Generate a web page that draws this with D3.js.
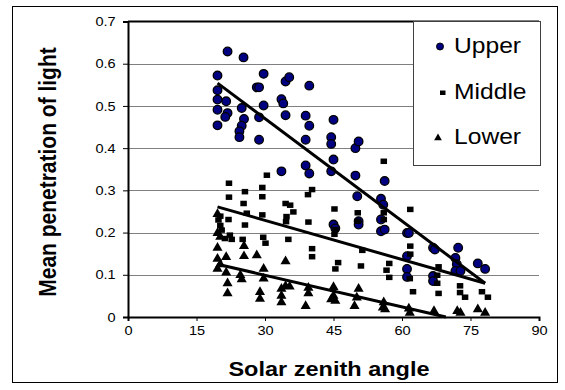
<!DOCTYPE html>
<html>
<head>
<meta charset="utf-8">
<script src="https://cdn.jsdelivr.net/npm/d3@7/dist/d3.min.js"></script>
<style>
  body { margin: 0; background: #fff; }
  svg { display: block; }
  text { font-family: "Liberation Sans", Arial, sans-serif; fill: #000; }
</style>
</head>
<body>
<svg id="chart"></svg>
<script>
// values
var xTicks = [0, 15, 30, 45, 60, 75, 90];
var yTicks = [0, 0.1, 0.2, 0.3, 0.4, 0.5, 0.6, 0.7];
var seriesNames = ["Upper", "Middle", "Lower"];

var upperX = [19.6, 21.8, 25.3, 19.6, 19.6, 19.6, 19.6, 21.5, 21.8, 21.3, 24.9, 25.4, 24.9, 24.4, 24.4,
  28.2, 28.7, 29.7, 29.7, 28.7, 28.7, 33.6, 34.0, 34.5, 34.5, 35.3, 39.7, 38.9, 39.7, 38.9, 38.9, 39.7,
  33.6, 45.0, 44.5, 44.5, 45.0, 44.5, 49.8, 50.5, 49.8, 50.2, 50.5, 50.5, 45.0, 45.4, 56.2, 55.4, 55.9,
  55.4, 55.4, 56.2, 61.1, 61.5, 61.1, 61.1, 61.1, 66.8, 67.2, 66.8, 66.8, 72.3, 71.7, 72.0, 71.7, 72.8,
  76.6, 78.2];
var upperY = [0.572, 0.629, 0.615, 0.537, 0.515, 0.491, 0.454, 0.511, 0.483, 0.474, 0.495, 0.469, 0.453, 0.440, 0.426,
  0.544, 0.544, 0.576, 0.501, 0.473, 0.420, 0.516, 0.506, 0.478, 0.558, 0.568, 0.548, 0.477, 0.453, 0.420, 0.359, 0.340,
  0.345, 0.467, 0.426, 0.410, 0.373, 0.345, 0.400, 0.416, 0.335, 0.286, 0.227, 0.219, 0.219, 0.210, 0.322, 0.280, 0.266,
  0.231, 0.203, 0.207, 0.199, 0.199, 0.144, 0.114, 0.095, 0.164, 0.160, 0.097, 0.085, 0.164, 0.140, 0.125, 0.109, 0.109,
  0.127, 0.114];

var middleX = [22.1, 22.1, 20.2, 20.2, 22.0, 20.5, 21.2, 22.3, 22.7, 19.8, 25.6, 25.3, 26.0, 25.6, 25.1,
  30.4, 29.4, 29.4, 29.4, 29.6, 30.1, 34.5, 35.5, 36.2, 34.7, 34.6, 35.1, 40.3, 39.4, 39.5, 40.3, 40.3,
  45.2, 45.4, 45.2, 46.0, 45.4, 50.3, 50.3, 51.3, 51.0, 56.0, 56.0, 56.0, 57.2, 56.6, 57.2,
  61.8, 61.8, 61.8, 61.7, 62.4, 68.0, 67.7, 67.7, 68.0, 72.7, 72.7, 73.8, 77.5, 78.8];
var middleY = [0.317, 0.284, 0.239, 0.217, 0.231, 0.206, 0.186, 0.194, 0.184, 0.230, 0.297, 0.269, 0.246, 0.218, 0.184,
  0.336, 0.307, 0.285, 0.242, 0.189, 0.175, 0.269, 0.265, 0.249, 0.238, 0.226, 0.184, 0.302, 0.290, 0.225, 0.162, 0.143,
  0.256, 0.207, 0.196, 0.129, 0.114, 0.247, 0.227, 0.158, 0.121, 0.369, 0.247, 0.231, 0.127, 0.111, 0.094,
  0.255, 0.168, 0.149, 0.091, 0.060, 0.119, 0.099, 0.080, 0.056, 0.074, 0.058, 0.047, 0.060, 0.047];

var lowerX = [19.6, 19.6, 20.2, 19.6, 19.6, 21.5, 19.6, 20.2, 21.5, 21.8, 21.8, 24.6, 24.9, 25.4, 25.4,
  28.2, 29.7, 29.7, 28.9, 28.9, 34.5, 33.6, 33.6, 33.6, 34.5, 35.4, 39.5, 39.5, 38.9,
  45.0, 45.0, 44.5, 45.4, 50.5, 50.1, 49.6, 56.0, 55.8, 56.3, 61.5, 61.7, 67.0, 72.1, 72.8, 76.6, 78.2];
var lowerY = [0.244, 0.199, 0.190, 0.164, 0.138, 0.142, 0.114, 0.125, 0.105, 0.080, 0.056, 0.099, 0.089, 0.168, 0.144,
  0.146, 0.114, 0.091, 0.059, 0.043, 0.132, 0.067, 0.050, 0.035, 0.073, 0.072, 0.069, 0.056, 0.026,
  0.071, 0.050, 0.042, 0.038, 0.067, 0.046, 0.026, 0.035, 0.022, 0.018, 0.020, 0.010, 0.014, 0.014, 0.010, 0.018, 0.010];

// trend line end points [x0, y0, x1, y1]
var upperTrend = [19.6, 0.554, 78.2, 0.080];
var middleTrend = [19.6, 0.261, 78.2, 0.080];
var lowerTrend = [19.6, 0.125, 69.6, 0.0];

var W = 565, H = 390;
var stretch = 1.12;   // the original chart is a little wider than tall

var svg = d3.select("#chart").attr("width", W).attr("height", H);

// outer frame
svg.append("rect")
  .attr("x", 12.5).attr("y", 6.5)
  .attr("width", 545).attr("height", 376)
  .attr("fill", "#fff").attr("stroke", "#000").attr("stroke-width", 1);

var x = d3.scaleLinear().domain([0, 90]).range([128, 539]);
var y = d3.scaleLinear().domain([0, 0.7]).range([317, 21.5]);

// gridlines
svg.append("g")
  .selectAll("line")
  .data(yTicks.filter(function (d) { return d > 0 && d < 0.7; }))
  .enter().append("line")
    .attr("x1", x(0)).attr("x2", x(90))
    .attr("y1", function (d) { return Math.round(y(d)) + 0.5; })
    .attr("y2", function (d) { return Math.round(y(d)) + 0.5; })
    .attr("stroke", "#808080").attr("stroke-width", 1);

// top line of plot area
svg.append("line")
  .attr("x1", x(0)).attr("x2", x(90))
  .attr("y1", y(0.7)).attr("y2", y(0.7))
  .attr("stroke", "#000").attr("stroke-width", 2);

// axes
var xAxis = d3.axisBottom(x).tickValues(xTicks).tickSize(4).tickFormat(d3.format("d"));
var yAxis = d3.axisLeft(y).tickValues(yTicks).tickSize(5)
  .tickFormat(function (d) { return d === 0 ? "0" : d3.format(".1f")(d); });

var gx = svg.append("g").attr("transform", "translate(0," + y(0) + ")").call(xAxis);
var gy = svg.append("g").attr("transform", "translate(" + x(0) + ",0)").call(yAxis);

[gx, gy].forEach(function (g) {
  g.select(".domain").attr("stroke", "#000").attr("stroke-width", 2);
  g.selectAll(".tick line").attr("stroke", "#000").attr("stroke-width", 1);
  g.selectAll(".tick text").attr("font-size", 13).attr("fill", "#000")
    .attr("transform", "scale(" + stretch + ",1)");
});
gx.selectAll(".tick text").attr("y", 9);
gy.selectAll(".tick text").attr("x", -11);

// series
var upper = upperX.map(function (v, i) { return [v, upperY[i]]; });
var middle = middleX.map(function (v, i) { return [v, middleY[i]]; });
var lower = lowerX.map(function (v, i) { return [v, lowerY[i]]; });

svg.append("g").selectAll("circle")
  .data(upper).enter().append("circle")
    .attr("cx", function (d) { return x(d[0]); })
    .attr("cy", function (d) { return y(d[1]); })
    .attr("r", 4.3)
    .attr("fill", "#000080").attr("stroke", "#000").attr("stroke-width", 1.3);

svg.append("g").selectAll("rect")
  .data(middle).enter().append("rect")
    .attr("x", function (d) { return x(d[0]) - 3.2; })
    .attr("y", function (d) { return y(d[1]) - 2.7; })
    .attr("width", 6.5).attr("height", 5.5)
    .attr("fill", "#000");

var tri = d3.symbol().type(d3.symbolTriangle).size(44);
svg.append("g").selectAll("path")
  .data(lower).enter().append("path")
    .attr("d", tri)
    .attr("transform", function (d) { return "translate(" + x(d[0]) + "," + y(d[1]) + ")"; })
    .attr("fill", "#000");

// trend lines
[upperTrend, middleTrend, lowerTrend].forEach(function (t) {
  svg.append("line")
    .attr("x1", x(t[0])).attr("y1", y(t[1]))
    .attr("x2", x(t[2])).attr("y2", y(t[3]))
    .attr("stroke", "#000").attr("stroke-width", 3);
});

// legend
var lg = svg.append("g");
lg.append("rect")
  .attr("x", 413.5).attr("y", 21.5).attr("width", 127).attr("height", 144)
  .attr("fill", "#fff").attr("stroke", "#404040").attr("stroke-width", 1);

var legendY = [53, 99, 144];
lg.append("circle").attr("cx", 440).attr("cy", legendY[0] - 6.5).attr("r", 3.5)
  .attr("fill", "#000080").attr("stroke", "#000").attr("stroke-width", 1);
lg.append("rect").attr("x", 440).attr("y", legendY[1] - 8.5).attr("width", 5.5).attr("height", 4.5)
  .attr("fill", "#000");
lg.append("path").attr("d", d3.symbol().type(d3.symbolTriangle).size(26))
  .attr("transform", "translate(438," + (legendY[2] - 6) + ")").attr("fill", "#000");

lg.selectAll("text.leg")
  .data(seriesNames).enter().append("text")
    .attr("class", "leg")
    .attr("transform", function (d, i) { return "translate(454," + legendY[i] + ") scale(" + stretch + ",1)"; })
    .attr("font-size", 22)
    .text(function (d) { return d; });

// axis titles
svg.append("text")
  .attr("transform", "translate(329,376) scale(" + stretch + ",1)")
  .attr("text-anchor", "middle")
  .attr("font-size", 21).attr("font-weight", "bold")
  .text("Solar zenith angle");

svg.append("text")
  .attr("transform", "translate(56,172) scale(" + stretch + ",1) rotate(-90)")
  .attr("text-anchor", "middle")
  .attr("font-size", 21).attr("font-weight", "bold")
  .text("Mean penetration of light");
</script>
</body>
</html>
